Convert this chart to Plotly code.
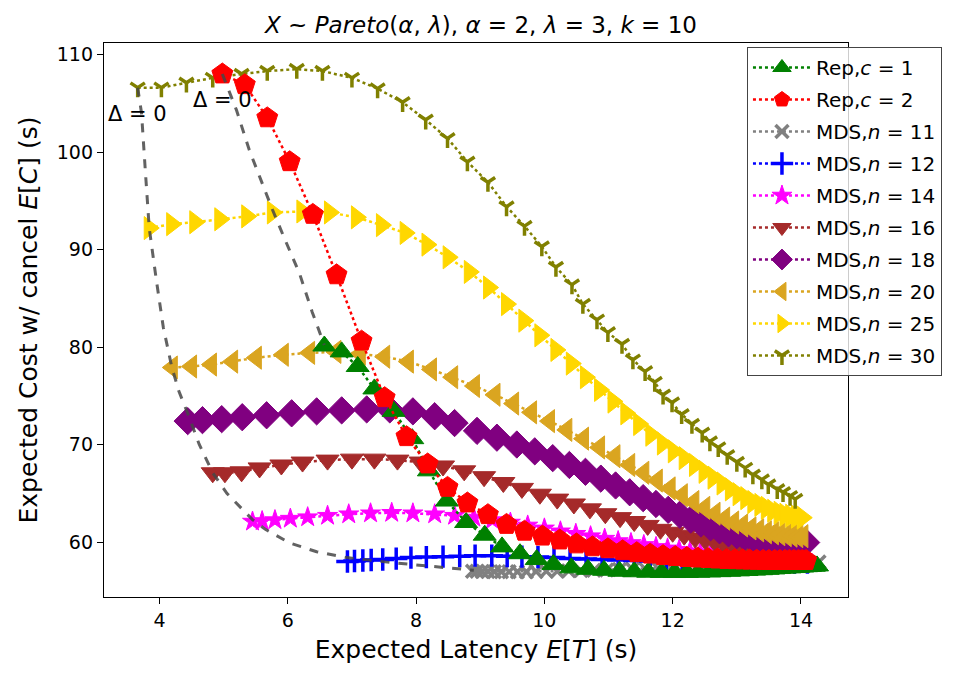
import plotly.graph_objects as go

# ---------------- data ----------------
rep1_x = [6.57, 6.84, 7.09, 7.35, 7.65, 7.94, 8.2, 8.48, 8.78, 9.07, 9.34, 9.62, 9.88, 10.14, 10.42,
          10.68, 10.93, 11.17, 11.4, 11.62, 11.83, 12.03, 12.22, 12.4, 12.57, 12.73, 12.88, 13.02,
          13.15, 13.27, 13.38, 13.48, 13.57, 13.66, 13.74, 13.82, 13.89, 13.96, 14.02, 14.08, 14.14,
          14.2, 14.25]
rep1_y = [80.1, 79.5, 78.0, 75.7, 73.4, 70.6, 67.3, 64.2, 62.0, 60.7, 59.5, 58.8, 58.2, 57.7, 57.35,
          57.2, 57.1, 57.0, 56.95, 56.9, 56.88, 56.87, 56.88, 56.9, 56.93, 56.96, 57.0, 57.04,
          57.08, 57.12, 57.16, 57.2, 57.24, 57.28, 57.32, 57.35, 57.38, 57.41, 57.44, 57.47, 57.5,
          57.52, 57.55]

rep2_x = [4.98, 5.33, 5.68, 6.03, 6.39, 6.76, 7.15, 7.51, 7.85, 8.18, 8.49, 8.8, 9.12, 9.41, 9.69,
          9.97, 10.24, 10.5, 10.75, 10.99, 11.22, 11.44, 11.65, 11.85, 12.04, 12.22, 12.39, 12.55,
          12.7, 12.84, 12.97, 13.09, 13.2, 13.31, 13.41, 13.5, 13.59, 13.67, 13.75, 13.82, 13.89,
          13.96, 14.02, 14.08]
rep2_y = [108.0, 106.9, 103.5, 99.0, 93.6, 87.4, 80.6, 74.8, 70.8, 68.0, 65.6, 64.0, 62.8, 61.8, 61.1,
          60.6, 60.2, 59.8, 59.5, 59.3, 59.1, 58.9, 58.75, 58.6, 58.5, 58.4, 58.35, 58.3,
          58.25, 58.2, 58.18, 58.16, 58.14, 58.12, 58.11, 58.1, 58.1, 58.1, 58.1, 58.1, 58.1,
          58.1, 58.1, 58.1]

n11_x = [8.88, 8.95, 9.03, 9.12, 9.22, 9.33, 9.45, 9.58, 9.72, 9.87, 10.03, 10.2, 10.38, 10.57,
         10.77, 10.97, 11.17, 11.37, 11.57, 11.77, 11.97, 12.17, 12.37, 12.57, 12.77, 12.97, 13.17,
         13.37, 13.57, 13.77, 13.97, 14.13, 14.28]
n11_y = [57.0, 57.0, 56.98, 56.97, 56.96, 56.95, 56.95, 56.95, 56.96, 56.97, 56.99, 57.01, 57.04,
         57.07, 57.1, 57.14, 57.18, 57.22, 57.27, 57.32, 57.37, 57.42, 57.47, 57.52, 57.57, 57.62,
         57.67, 57.72, 57.77, 57.82, 57.87, 57.9, 57.95]

n12_x = [6.93, 7.04, 7.17, 7.3, 7.48, 7.69, 7.92, 8.16, 8.42, 8.68, 8.92, 9.18, 9.42, 9.65, 9.9,
         10.15, 10.4, 10.65, 10.9, 11.15, 11.4, 11.65, 11.9, 12.15, 12.4, 12.65, 12.9, 13.15, 13.4,
         13.65, 13.9, 14.1]
n12_y = [58.0, 58.05, 58.1, 58.15, 58.2, 58.3, 58.4, 58.45, 58.5, 58.55, 58.6, 58.6, 58.55, 58.5,
         58.45, 58.4, 58.3, 58.25, 58.2, 58.15, 58.1, 58.05, 58.0, 58.0, 57.95, 57.95, 57.9, 57.9,
         57.9, 57.9, 57.9, 57.9]

n14_x = [5.45, 5.6, 5.8, 6.04, 6.31, 6.62, 6.95, 7.29, 7.62, 7.95, 8.29, 8.6, 8.9, 9.19, 9.47, 9.74,
         10.0, 10.25, 10.49, 10.72, 10.94, 11.15, 11.35, 11.55, 11.74, 11.92, 12.1, 12.27, 12.43,
         12.59, 12.74, 12.88, 13.02, 13.15, 13.28, 13.4, 13.52, 13.63, 13.74, 13.84, 13.94, 14.03]
n14_y = [62.1, 62.15, 62.25, 62.4, 62.55, 62.7, 62.85, 62.95, 63.0, 62.95, 62.85, 62.7, 62.5, 62.25,
         62.0, 61.7, 61.4, 61.1, 60.85, 60.6, 60.35, 60.1, 59.9, 59.7, 59.5, 59.35, 59.2, 59.05,
         58.95, 58.85, 58.75, 58.7, 58.65, 58.6, 58.55, 58.52, 58.5, 58.48, 58.47, 58.46, 58.45,
         58.45]

n16_x = [4.83, 5.02, 5.28, 5.56, 5.9, 6.23, 6.62, 7.0, 7.35, 7.71, 8.07, 8.42, 8.75, 9.06, 9.36,
         9.65, 9.93, 10.2, 10.46, 10.71, 10.95, 11.18, 11.4, 11.61, 11.81, 12.0, 12.18, 12.35, 12.51,
         12.66, 12.8, 12.94, 13.07, 13.19, 13.31, 13.42, 13.52, 13.62, 13.72, 13.81, 13.9, 13.98]
n16_y = [67.1, 67.1, 67.2, 67.6, 67.9, 68.2, 68.4, 68.5, 68.5, 68.4, 68.2, 67.8, 67.3, 66.7, 66.1,
         65.5, 64.9, 64.4, 63.9, 63.4, 62.9, 62.5, 62.1, 61.7, 61.3, 61.0, 60.7, 60.4, 60.2,
         60.0, 59.8, 59.7, 59.5, 59.4, 59.3, 59.2, 59.1, 59.0, 58.95, 58.9, 58.85, 58.8]

n18_x = [4.44, 4.67, 4.97, 5.29, 5.67, 6.06, 6.45, 6.84, 7.23, 7.59, 7.95, 8.29, 8.6, 8.95, 9.26,
         9.57, 9.85, 10.13, 10.39, 10.64, 10.88, 11.11, 11.33, 11.54, 11.74, 11.93, 12.11, 12.28,
         12.44, 12.59, 12.73, 12.87, 13.0, 13.12, 13.24, 13.35, 13.46, 13.56, 13.66, 13.75, 13.84,
         13.93, 14.01, 14.08]
n18_y = [72.4, 72.5, 72.6, 72.8, 73.0, 73.2, 73.4, 73.5, 73.6, 73.6, 73.4, 72.9, 72.2, 71.4, 70.7,
         70.0, 69.3, 68.6, 67.9, 67.2, 66.5, 65.8, 65.1, 64.5, 63.9, 63.3, 62.8, 62.3,
         61.9, 61.5, 61.2, 60.9, 60.7, 60.5, 60.35, 60.2, 60.1, 60.0, 59.95, 59.9, 59.9,
         59.9, 59.9, 59.95]

n20_x = [4.2, 4.5, 4.81, 5.14, 5.51, 5.93, 6.34, 6.75, 7.13, 7.51, 7.88, 8.24, 8.57, 8.91, 9.23,
         9.52, 9.8, 10.08, 10.35, 10.61, 10.86, 11.1, 11.33, 11.55, 11.76, 11.96, 12.15, 12.33,
         12.5, 12.66, 12.81, 12.95, 13.09, 13.22, 13.34, 13.46, 13.57, 13.67, 13.77, 13.86, 13.95,
         14.03]
n20_y = [77.9, 78.0, 78.2, 78.5, 78.9, 79.2, 79.4, 79.5, 79.3, 79.0, 78.5, 77.7, 76.9, 76.0, 75.1,
         74.2, 73.3, 72.4, 71.5, 70.6, 69.7, 68.8, 67.9, 67.1, 66.3, 65.5, 64.8, 64.1,
         63.5, 62.9, 62.4, 62.0, 61.7, 61.4, 61.2, 61.0, 60.9, 60.8, 60.7, 60.65, 60.6, 60.6]

n25_x = [3.84, 4.19, 4.55, 4.94, 5.36, 5.76, 6.22, 6.65, 7.07, 7.46, 7.83, 8.17, 8.5, 8.83, 9.13,
         9.41, 9.68, 9.93, 10.18, 10.42, 10.64, 10.86, 11.07, 11.27, 11.47, 11.66, 11.84, 12.01,
         12.18, 12.34, 12.49, 12.63, 12.77, 12.9, 13.02, 13.14, 13.25, 13.36, 13.46, 13.56, 13.66,
         13.75, 13.84, 13.93, 14.02]
n25_y = [92.2, 92.6, 92.8, 93.1, 93.4, 93.8, 93.9, 93.8, 93.3, 92.5, 91.7, 90.5, 89.2, 87.7, 86.1,
         84.4, 82.7, 81.2, 79.7, 78.3, 76.9, 75.6, 74.4, 73.2, 72.1, 71.0, 70.1, 69.3,
         68.6, 67.9, 67.2, 66.6, 66.0, 65.4, 64.9, 64.5, 64.1, 63.8, 63.5, 63.2, 63.0,
         62.8, 62.7, 62.6, 62.5]

n30_x = [3.66, 4.03, 4.42, 4.83, 5.28, 5.68, 6.14, 6.54, 7.0, 7.4, 7.79, 8.15, 8.49, 8.8, 9.12,
         9.41, 9.69, 9.96, 10.18, 10.43, 10.6, 10.82, 10.99, 11.21, 11.38, 11.57, 11.72, 11.85,
         11.99, 12.14, 12.3, 12.46, 12.58, 12.71, 12.85, 13.0, 13.13, 13.25, 13.39, 13.49, 13.63,
         13.72, 13.83, 13.91]
n30_y = [106.6, 106.6, 107.1, 107.6, 108.0, 108.3, 108.5, 108.3, 107.6, 106.5, 105.1, 103.3, 101.4,
         99.0, 96.9, 94.4, 92.4, 90.3, 88.2, 86.4, 84.4, 82.8, 81.5, 80.3, 78.7, 77.5, 76.4, 75.1,
         74.3, 73.1, 72.1, 71.2, 70.3, 69.7, 68.9, 68.2, 67.6, 66.9, 66.4, 65.9, 65.4,
         65.1, 64.7, 64.4]

# Delta = 0 loci (dashed)
mds0_x = [3.66, 3.72, 3.78, 3.84, 3.95, 4.06, 4.19, 4.3, 4.44, 4.62, 4.83, 5.05, 5.3, 5.45, 5.65,
          6.03, 6.45, 6.92, 7.6, 8.48, 8.9]
mds0_y = [106.6, 104.0, 98.0, 92.2, 86.9, 82.0, 78.0, 75.5, 73.2, 70.0, 67.1, 65.0, 63.3, 62.3, 61.3,
          59.9, 59.0, 58.4, 57.9, 57.4, 57.1]
rep0_x = [4.98, 5.2, 5.4, 5.58, 5.76, 5.97, 6.18, 6.38, 6.57]
rep0_y = [108.0, 104.3, 100.2, 97.1, 94.1, 90.8, 87.6, 83.6, 80.2]

labels = ["Rep,<i>c</i> = 1", "Rep,<i>c</i> = 2", "MDS,<i>n</i> = 11", "MDS,<i>n</i> = 12",
          "MDS,<i>n</i> = 14", "MDS,<i>n</i> = 16", "MDS,<i>n</i> = 18", "MDS,<i>n</i> = 20",
          "MDS,<i>n</i> = 25", "MDS,<i>n</i> = 30"]
xs = [rep1_x, rep2_x, n11_x, n12_x, n14_x, n16_x, n18_x, n20_x, n25_x, n30_x]
ys = [rep1_y, rep2_y, n11_y, n12_y, n14_y, n16_y, n18_y, n20_y, n25_y, n30_y]

delta_text = ["Δ = 0", "Δ = 0"]
delta_x = [3.66, 4.98]
delta_y = [103.9, 105.3]

x_ticks = [4, 6, 8, 10, 12, 14]
y_ticks = [60, 70, 80, 90, 100, 110]

# ---------------- styles ----------------
colors = ["green", "red", "gray", "blue", "magenta", "brown", "purple", "goldenrod", "gold", "olive"]
symbols = ["triangle-up", "pentagon", "x-thin", "cross-thin", "star", "triangle-down", "diamond",
           "triangle-left", "triangle-right", "y-down"]
sizes = [20, 22, 13, 16, 15, 20, 21, 20, 20, 12]
open_sym = {"x-thin", "cross-thin", "y-down"}

FONT = "DejaVu Sans"
fig = go.Figure()

# draw MDS first, then Rep (Rep on top), keep legend order via legendrank
draw_order = [2, 3, 4, 5, 6, 7, 8, 9, 0, 1]
for i in draw_order:
    sym = symbols[i]
    if sym in open_sym:
        marker = dict(symbol=sym, size=sizes[i], color=colors[i],
                      line=dict(color=colors[i], width=3.5))
    else:
        marker = dict(symbol=sym, size=sizes[i], color=colors[i],
                      line=dict(color=colors[i], width=1))
    fig.add_trace(go.Scatter(
        x=xs[i], y=ys[i], mode="lines+markers", name=labels[i],
        line=dict(color=colors[i], width=2.5, dash="dot"),
        marker=marker, legendrank=i + 1, legendgroup="g%d" % i,
    ))

for lx, ly in [(mds0_x, mds0_y), (rep0_x, rep0_y)]:
    fig.add_trace(go.Scatter(x=lx, y=ly, mode="lines", showlegend=False,
                             line=dict(color="rgba(70,70,70,0.85)", width=3, dash="dash")))

for t, ax_, ay_ in zip(delta_text, delta_x, delta_y):
    fig.add_annotation(x=ax_, y=ay_, text=t, showarrow=False,
                       font=dict(family=FONT, size=21, color="black"))

axis_common = dict(showline=True, linecolor="black", linewidth=1.3, mirror=True,
                   ticks="outside", ticklen=6, tickwidth=1.3, tickcolor="black",
                   showgrid=False, zeroline=False,
                   tickfont=dict(family=FONT, size=19, color="black"))

fig.update_xaxes(range=[3.135, 14.733], tickvals=x_ticks, ticktext=[str(v) for v in x_ticks],
                 title=dict(text="Expected Latency <i>E</i>[<i>T</i>] (s)",
                            font=dict(family=FONT, size=25, color="black"), standoff=10),
                 **axis_common)
fig.update_yaxes(range=[54.36, 111.18], tickvals=y_ticks, ticktext=[str(v) for v in y_ticks],
                 title=dict(text="Expected Cost w/ cancel <i>E</i>[<i>C</i>] (s)",
                            font=dict(family=FONT, size=25, color="black"), standoff=12),
                 **axis_common)

fig.update_layout(
    width=959, height=683,
    margin=dict(l=104, r=111, t=43, b=86, autoexpand=False),
    paper_bgcolor="white", plot_bgcolor="white",
    font=dict(family=FONT, color="black"),
    title=dict(text="<i>X</i> ~ <i>Pareto</i>(<i>α</i>, <i>λ</i>), <i>α</i> = 2, <i>λ</i> = 3, <i>k</i> = 10",
               x=481 / 959, xanchor="center", y=1 - 25 / 683, yanchor="middle",
               font=dict(family=FONT, size=23, color="black")),
    legend=dict(x=0.8642, y=0.9928, xanchor="left", yanchor="top",
                bgcolor="rgba(255,255,255,0.8)", bordercolor="#444", borderwidth=1,
                font=dict(family=FONT, size=20, color="black"),
                tracegroupgap=3, itemwidth=58),
    showlegend=True,
)

fig.write_html("out.html")
